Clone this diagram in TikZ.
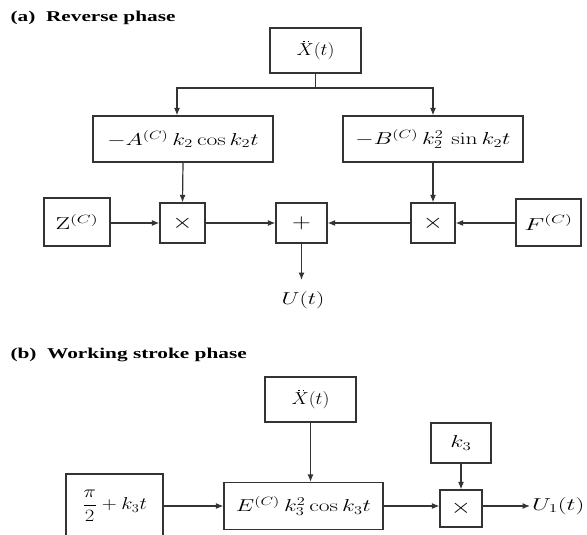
\documentclass[tikz,border=0pt]{standalone}
\usepackage[no-math]{fontspec}
\setmainfont{Liberation Serif}
\usetikzlibrary{arrows.meta}
\newcommand{\sx}[1]{\scalebox{1.42}[1]{#1}}
\newcommand{\mx}[2][1.36]{\scalebox{#1}[1]{\fontsize{16.5}{19}\selectfont$#2$}}
\newcommand{\opx}[1]{\scalebox{1.25}[1]{\fontsize{22}{24}\selectfont$#1$}}
\newcommand{\Xdd}{\rlap{\hspace{5.9pt}\raisebox{13.6pt}{\rule{1.6pt}{1.6pt}\hspace{2.3pt}\rule{1.6pt}{1.6pt}}}X}
\begin{document}
\begin{tikzpicture}[x=1pt,y=-1pt,
  every node/.style={font=\fontsize{15}{18}\selectfont},
  blk/.style={draw=black!80, line width=1.2pt, inner sep=0pt},
  ttl/.style={anchor=west, font=\fontsize{15}{18}\selectfont\bfseries},
  lin/.style={draw=black!80, line width=1.2pt},
  conn/.style={draw=black!80, line width=1.2pt, -{Latex[length=7.5pt,width=6pt]}}
]
\useasboundingbox (0,0) rectangle (587,535);

% ---------- (a) ----------
\node[ttl] (ta) at (7,18) {\sx{(a)\ \ Reverse phase}};
\node[blk, minimum width=91pt, minimum height=45pt] (X) at (315.5,50.5) {\mx[1.12]{\Xdd(t)}};
\node[blk, minimum width=180pt, minimum height=46pt] (A) at (183,139) {\mx{-A^{(C)}\,k_2\cos k_2t}};
\node[blk, minimum width=180pt, minimum height=46pt] (B) at (433,139) {\mx{-B^{(C)}\,k_2^2\,\sin k_2t}};
\node[blk, minimum width=66pt, minimum height=48pt] (Z) at (77,222) {\mx[1.5]{\mathrm{Z}^{(C)}}};
\node[blk, minimum width=45pt, minimum height=40pt] (M1) at (182.5,223) {\opx{\times}};
\node[blk, minimum width=51pt, minimum height=40pt] (P) at (301.5,223) {\opx{+}};
\node[blk, minimum width=44pt, minimum height=40pt] (M2) at (433,223) {\opx{\times}};
\node[blk, minimum width=65pt, minimum height=47pt] (F) at (548.5,222.5) {\mx[1.5]{F^{(C)}}};
\coordinate (br) at (315.5,88);
\coordinate (uend) at (301.5,280);
\node (U) at (303,300) {\mx[1.35]{U(t)}};

\draw[lin] (X.south) -- (br);
\draw[conn] (br) -| ([xshift=-6pt]A.north);
\draw[conn] (br) -| (B.north);
\draw[conn] (A.south) -- (M1.north);
\draw[conn] (B.south) -- (M2.north);
\draw[conn] (Z.east |- M1.west) -- (M1.west);
\draw[conn] (M1.east) -- (P.west);
\draw[conn] (F.west |- M2.east) -- (M2.east);
\draw[conn] (M2.west) -- (P.east);
\draw[conn] (P.south) -- (uend);

% ---------- (b) ----------
\node[ttl] (tb) at (7,355) {\sx{(b)\ \ Working stroke phase}};
\node[blk, minimum width=91pt, minimum height=45pt] (X2) at (310.5,399.5) {\mx[1.12]{\Xdd(t)}};
\node[blk, minimum width=97pt, minimum height=64pt] (Pi) at (114.5,506) {\mx[1.2]{\displaystyle\frac{\pi}{2}+k_3t}};
\node[blk, minimum width=159pt, minimum height=47pt] (E) at (303.5,506) {\mx{E^{(C)}\,k_3^2\cos k_3t}};
\node[blk, minimum width=60pt, minimum height=40pt] (K) at (461,443) {\mx[1.4]{k_3}};
\node[blk, minimum width=42pt, minimum height=37pt] (M3) at (461,508.5) {\opx{\times}};
\node[anchor=west, inner sep=2pt] (U1) at (530,506) {\mx[1.44]{U_1(t)}};

\draw[conn] (X2.south) -- (X2.south |- E.north);
\draw[conn] (Pi.east) -- (E.west);
\draw[conn] (E.east) -- (E.east -| M3.west);
\draw[conn] (K.south) -- (M3.north);
\draw[conn] (E.east -| M3.east) -- (U1.west);
\end{tikzpicture}
\end{document}
